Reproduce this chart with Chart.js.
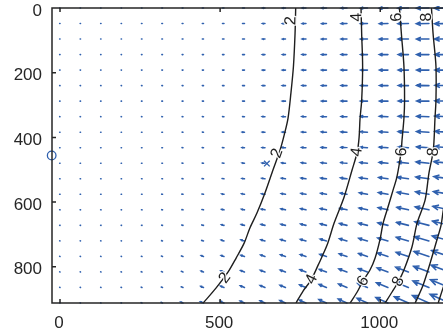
<!DOCTYPE html>
<html lang="en">
<head>
<meta charset="UTF-8">
<title>Distortion field</title>
<script src="https://cdn.jsdelivr.net/npm/chart.js"></script>
<style>
  html, body { margin: 0; padding: 0; background: #fff; }
</style>
</head>
<body>
<canvas id="chart" width="443" height="335"></canvas>
<script>
// grid of the vector field (image pixels)
const gridX = [0,64,128,192,256,320,384,448,512,576,640,704,768,832,896,960,1024,1088,1152,1216];
const gridY = [0,48,96,144,192,240,288,336,384,432,480,528,576,624,672,720,768,816,864,912];

// error magnitude at each grid point (rows = gridY, cols = gridX)
const errMag = [
  [0.2,0.2,0.2,0.2,0.3,0.4,0.5,0.7,0.9,1.2,1.5,1.8,2.3,2.9,3.6,4.3,5.4,6.6,7.8,9.3],
  [0.2,0.2,0.2,0.2,0.3,0.4,0.5,0.7,0.9,1.2,1.5,1.8,2.3,2.9,3.6,4.3,5.3,6.5,7.8,9.2],
  [0.2,0.2,0.2,0.2,0.3,0.4,0.5,0.7,0.9,1.2,1.5,1.8,2.3,3.0,3.6,4.3,5.3,6.4,7.7,9.2],
  [0.2,0.2,0.2,0.2,0.3,0.4,0.5,0.7,0.9,1.2,1.5,1.8,2.4,3.0,3.6,4.2,5.3,6.3,7.6,9.1],
  [0.2,0.2,0.2,0.2,0.3,0.4,0.5,0.7,0.9,1.2,1.5,1.9,2.4,3.0,3.6,4.2,5.2,6.3,7.6,9.0],
  [0.2,0.2,0.2,0.2,0.3,0.4,0.5,0.7,0.9,1.2,1.5,1.9,2.4,3.0,3.6,4.2,5.2,6.3,7.6,9.0],
  [0.2,0.2,0.2,0.2,0.3,0.4,0.5,0.7,0.9,1.2,1.6,1.9,2.5,3.0,3.6,4.3,5.2,6.3,7.6,9.0],
  [0.2,0.2,0.2,0.2,0.3,0.4,0.5,0.7,0.9,1.2,1.6,2.0,2.5,3.1,3.6,4.3,5.3,6.3,7.6,9.1],
  [0.2,0.2,0.2,0.2,0.3,0.4,0.5,0.7,1.0,1.3,1.6,2.0,2.6,3.1,3.7,4.4,5.3,6.4,7.7,9.1],
  [0.2,0.2,0.2,0.2,0.3,0.4,0.6,0.8,1.0,1.4,1.7,2.1,2.7,3.2,3.7,4.5,5.4,6.4,7.7,9.3],
  [0.2,0.2,0.2,0.2,0.3,0.4,0.6,0.8,1.1,1.4,1.8,2.3,2.8,3.3,3.9,4.6,5.5,6.6,8.0,9.7],
  [0.2,0.2,0.2,0.2,0.3,0.4,0.6,0.9,1.2,1.5,1.9,2.5,3.0,3.5,4.0,4.9,5.8,6.9,8.2,9.8],
  [0.2,0.2,0.2,0.2,0.3,0.5,0.7,1.0,1.3,1.7,2.1,2.6,3.1,3.6,4.2,5.1,6.0,7.1,8.4,10.1],
  [0.2,0.2,0.2,0.2,0.3,0.5,0.7,1.0,1.4,1.8,2.3,2.8,3.3,3.8,4.5,5.3,6.2,7.3,8.7,10.5],
  [0.2,0.2,0.2,0.2,0.3,0.5,0.8,1.1,1.5,2.0,2.5,2.9,3.4,3.9,4.7,5.5,6.4,7.6,9.0,10.8],
  [0.2,0.2,0.2,0.2,0.4,0.6,0.9,1.2,1.7,2.2,2.6,3.1,3.6,4.1,4.8,5.6,6.6,7.8,9.3,11.1],
  [0.2,0.2,0.2,0.2,0.4,0.7,1.0,1.4,1.8,2.3,2.8,3.2,3.7,4.3,5.0,5.7,6.8,8.0,9.7,11.6],
  [0.2,0.2,0.2,0.3,0.5,0.7,1.1,1.5,2.0,2.5,3.0,3.4,3.9,4.6,5.3,5.9,7.1,8.4,10.1,12.1],
  [0.2,0.2,0.2,0.3,0.5,0.8,1.2,1.7,2.2,2.7,3.2,3.6,4.2,4.9,5.6,6.5,7.7,9.0,10.7,12.7],
  [0.2,0.2,0.2,0.3,0.6,1.0,1.4,2.0,2.4,2.9,3.3,3.8,4.4,5.1,5.9,7.0,8.2,9.6,11.2,13.2]
];
// upward tilt of the (leftward) vectors in each row, degrees
const errTilt = [-1,-1,0,0,0,1,1,2,3,4,6,8,10,12,14,16,18,20,22,24];

// contour lines of the error magnitude
const contourLevels = [2, 4, 6, 8, 10, 12];
const contour2 = [[736,0],[734,79],[729,180],[721,264],[712,341],[700,393],[687,440],[665,501],[640,572],[615,634],[593,680],[575,727],[550,773],[525,816],[487,866],[447,912]];
const contour4 = [[940,0],[942,79],[945,180],[942,286],[937,341],[934,400],[928,446],[912,501],[887,585],[856,665],[834,733],[806,795],[784,841],[759,875],[737,912]];
const contour6 = [[1060,0],[1066,79],[1074,180],[1076,286],[1074,341],[1068,409],[1065,446],[1052,523],[1040,563],[1024,616],[1009,665],[999,717],[984,773],[968,810],[946,844],[928,878],[906,912]];
const contour8 = [[1160,0],[1165,79],[1174,180],[1174,286],[1171,341],[1168,409],[1165,446],[1152,511],[1140,594],[1115,665],[1099,739],[1074,810],[1056,847],[1037,878],[1015,912]];
const contour10 = [[1202,594],[1196,631],[1190,671],[1177,717],[1156,788],[1134,856],[1109,912]];
const contour12 = [[1206,841],[1196,866],[1181,912]];
const contours = [contour2, contour4, contour6, contour8, contour10, contour12];

// inline contour labels
const labelLevel = [2, 2, 2, 4, 4, 4, 6, 6, 6, 8, 8, 8];
const labelX = [721, 678, 515, 927, 927, 786, 1052, 1067, 947, 1145, 1166, 1057];
const labelY = [39, 449, 835, 28, 445, 839, 28, 445, 844, 28, 445, 846];

const imageCenter = [{x: -26, y: 456}];
const principalPoint = [{x: 646, y: 481}];

const xTicks = [0, 500, 1000];
const yTicks = [0, 200, 400, 600, 800];

const arrowColor = '#2f60ae';
const arrowScale = 5;   // axis units per unit of error
const axisColor = '#262626';

const quiverPlugin = {
  id: 'quiver',
  beforeDatasetsDraw(chart) {
    const {ctx, chartArea: a, scales: {x, y}} = chart;
    ctx.save();
    ctx.beginPath();
    ctx.rect(a.left, a.top - 2, a.right - a.left, a.bottom - a.top + 4);
    ctx.clip();
    ctx.strokeStyle = arrowColor;
    ctx.lineWidth = 1.6;
    ctx.lineCap = 'round';
    gridY.forEach((gy, r) => {
      const t = errTilt[r] * Math.PI / 180;
      gridX.forEach((gx, c) => {
        const m = errMag[r][c];
        const u = -m * Math.cos(t), v = -m * Math.sin(t);
        const x0 = x.getPixelForValue(gx), y0 = y.getPixelForValue(gy);
        const x1 = x.getPixelForValue(gx + arrowScale * u);
        const y1 = y.getPixelForValue(gy + arrowScale * v);
        ctx.beginPath();
        ctx.moveTo(x0, y0);
        ctx.lineTo(x1, y1);
        const len = Math.hypot(x1 - x0, y1 - y0);
        if (len > 2) {
          const ang = Math.atan2(y1 - y0, x1 - x0);
          const hl = len * 0.33;
          ctx.moveTo(x1 - hl * Math.cos(ang - 0.42), y1 - hl * Math.sin(ang - 0.42));
          ctx.lineTo(x1, y1);
          ctx.lineTo(x1 - hl * Math.cos(ang + 0.42), y1 - hl * Math.sin(ang + 0.42));
        }
        ctx.stroke();
      });
    });
    ctx.restore();
  }
};

function segDist(px, py, ax, ay, bx, by) {
  const dx = bx - ax, dy = by - ay;
  let t = ((px - ax) * dx + (py - ay) * dy) / (dx * dx + dy * dy);
  t = Math.max(0, Math.min(1, t));
  return Math.hypot(px - ax - t * dx, py - ay - t * dy);
}

const labelPlugin = {
  id: 'contourLabels',
  afterDatasetsDraw(chart) {
    const {ctx, scales: {x, y}} = chart;
    ctx.save();
    ctx.font = '16px "Liberation Sans", Arial, sans-serif';
    ctx.textAlign = 'center';
    ctx.textBaseline = 'middle';
    labelLevel.forEach((lev, i) => {
      const line = contours[contourLevels.indexOf(lev)];
      const px = x.getPixelForValue(labelX[i]), py = y.getPixelForValue(labelY[i]);
      let best = Infinity, ang = -Math.PI / 2;
      for (let k = 0; k < line.length - 1; k++) {
        const ax = x.getPixelForValue(line[k][0]), ay = y.getPixelForValue(line[k][1]);
        const bx = x.getPixelForValue(line[k + 1][0]), by = y.getPixelForValue(line[k + 1][1]);
        const d = segDist(px, py, ax, ay, bx, by);
        if (d < best) { best = d; ang = Math.atan2(by - ay, bx - ax); }
      }
      if (Math.sin(ang) > 0) ang += Math.PI;
      ctx.save();
      ctx.translate(px, py);
      ctx.rotate(ang);
      ctx.strokeStyle = 'rgba(255,255,255,0.9)';
      ctx.lineWidth = 2.5;
      ctx.strokeText(String(lev), 0, 0);
      ctx.fillStyle = '#1e1e1e';
      ctx.fillText(String(lev), 0, 0);
      ctx.restore();
    });
    ctx.restore();
  }
};

const framePlugin = {
  id: 'frame',
  afterDraw(chart) {
    const {ctx, chartArea: a, scales: {x, y}} = chart;
    ctx.save();
    ctx.strokeStyle = axisColor;
    ctx.lineWidth = 1.5;
    ctx.beginPath();
    ctx.moveTo(a.right, a.top);
    ctx.lineTo(a.left, a.top);
    ctx.lineTo(a.left, a.bottom);
    ctx.lineTo(a.right, a.bottom);
    xTicks.forEach(v => {
      const p = x.getPixelForValue(v);
      ctx.moveTo(p, a.bottom); ctx.lineTo(p, a.bottom - 4);
      ctx.moveTo(p, a.top); ctx.lineTo(p, a.top + 4);
    });
    yTicks.forEach(v => {
      const p = y.getPixelForValue(v);
      ctx.moveTo(a.left, p); ctx.lineTo(a.left + 4, p);
    });
    ctx.stroke();
    ctx.restore();
  }
};

const tickFont = {family: '"Liberation Sans", Arial, sans-serif', size: 17};

const contourSets = contours.map((line, i) => ({
  label: 'level ' + contourLevels[i],
  data: line.map(p => ({x: p[0], y: p[1]})),
  borderColor: '#1e1e1e',
  borderWidth: 1.4,
  pointRadius: 0,
  tension: 0.3,
  fill: false
}));

new Chart(document.getElementById('chart'), {
  type: 'line',
  data: {
    datasets: [
      ...contourSets,
      {
        type: 'scatter', label: 'image center', data: imageCenter,
        pointStyle: 'circle', radius: 4.3, borderWidth: 1.3,
        borderColor: arrowColor, backgroundColor: 'rgba(0,0,0,0)', clip: false, order: -1
      },
      {
        type: 'scatter', label: 'principal point', data: principalPoint,
        pointStyle: 'crossRot', radius: 4, borderWidth: 1.3,
        borderColor: arrowColor, backgroundColor: arrowColor, clip: false, order: -1
      }
    ]
  },
  options: {
    responsive: false,
    devicePixelRatio: 1,
    animation: false,
    layout: {autoPadding: false, padding: {top: 8, left: 0, right: 0, bottom: 0}},
    plugins: {legend: {display: false}, tooltip: {enabled: false}},
    scales: {
      x: {
        type: 'linear', min: -25, max: 1196,
        afterBuildTicks: s => { s.ticks = xTicks.map(v => ({value: v})); },
        afterFit: s => { s.height = 32; s.paddingLeft = 0; s.paddingRight = 0; },
        ticks: {font: tickFont, color: axisColor, padding: 10, labelOffset: -1,
                maxRotation: 0, autoSkip: false, callback: v => String(v)},
        grid: {display: false, drawTicks: false},
        border: {display: false}
      },
      y: {
        type: 'linear', reverse: true, min: 0, max: 912,
        afterBuildTicks: s => { s.ticks = yTicks.map(v => ({value: v})); },
        afterFit: s => { s.width = 52; s.paddingTop = 0; s.paddingBottom = 0; },
        ticks: {font: tickFont, color: axisColor, padding: 10, labelOffset: 3,
                autoSkip: false, callback: v => String(v)},
        grid: {display: false, drawTicks: false},
        border: {display: false}
      }
    }
  },
  plugins: [quiverPlugin, labelPlugin, framePlugin]
});
</script>
</body>
</html>
